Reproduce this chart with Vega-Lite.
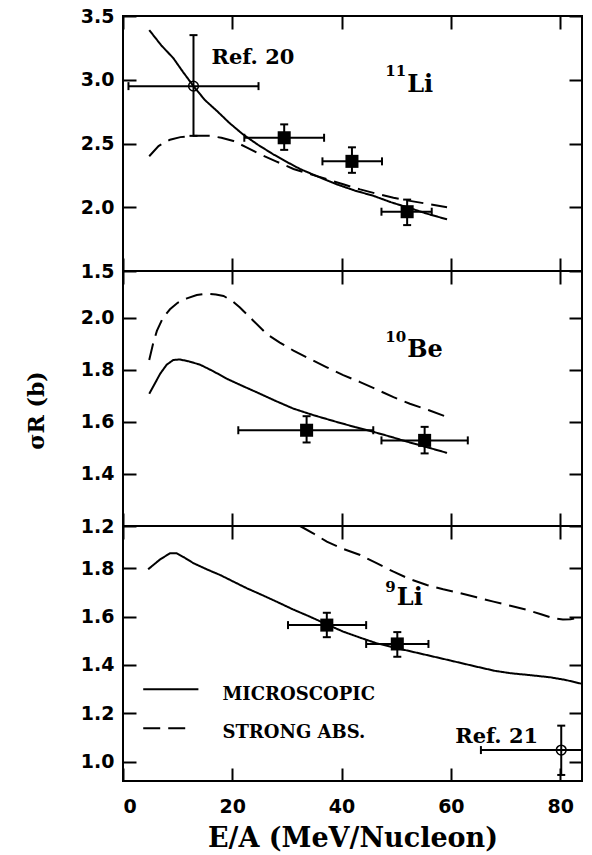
{
"$schema": "https://vega.github.io/schema/vega-lite/v6.json",
"padding": {"left": 23, "top": 6, "right": 10, "bottom": 5},
"spacing": 0,
"bounds": "flush",
"background": "white",
"datasets": {
"c1": [
{"model":"MICROSCOPIC","x":4.8,"y":3.39},{"model":"MICROSCOPIC","x":7,"y":3.27},{"model":"MICROSCOPIC","x":9.2,"y":3.17},{"model":"MICROSCOPIC","x":11,"y":3.06},{"model":"MICROSCOPIC","x":12.9,"y":2.95},{"model":"MICROSCOPIC","x":15,"y":2.84},{"model":"MICROSCOPIC","x":17.2,"y":2.755},{"model":"MICROSCOPIC","x":19.5,"y":2.66},{"model":"MICROSCOPIC","x":22,"y":2.57},{"model":"MICROSCOPIC","x":24.7,"y":2.49},{"model":"MICROSCOPIC","x":27.5,"y":2.415},{"model":"MICROSCOPIC","x":30,"y":2.355},{"model":"MICROSCOPIC","x":32.4,"y":2.3},{"model":"MICROSCOPIC","x":35.7,"y":2.24},{"model":"MICROSCOPIC","x":39.1,"y":2.18},{"model":"MICROSCOPIC","x":42.5,"y":2.13},{"model":"MICROSCOPIC","x":45.8,"y":2.09},{"model":"MICROSCOPIC","x":49,"y":2.04},{"model":"MICROSCOPIC","x":52,"y":2.0},{"model":"MICROSCOPIC","x":55.6,"y":1.95},{"model":"MICROSCOPIC","x":59.3,"y":1.905},
{"model":"STRONG ABS.","x":4.8,"y":2.4},{"model":"STRONG ABS.","x":6.5,"y":2.48},{"model":"STRONG ABS.","x":8.6,"y":2.53},{"model":"STRONG ABS.","x":10.5,"y":2.55},{"model":"STRONG ABS.","x":12.9,"y":2.56},{"model":"STRONG ABS.","x":15.9,"y":2.56},{"model":"STRONG ABS.","x":18,"y":2.545},{"model":"STRONG ABS.","x":20.2,"y":2.52},{"model":"STRONG ABS.","x":22.6,"y":2.47},{"model":"STRONG ABS.","x":25.1,"y":2.415},{"model":"STRONG ABS.","x":28,"y":2.36},{"model":"STRONG ABS.","x":31.2,"y":2.3},{"model":"STRONG ABS.","x":34.2,"y":2.26},{"model":"STRONG ABS.","x":37.3,"y":2.22},{"model":"STRONG ABS.","x":40.3,"y":2.18},{"model":"STRONG ABS.","x":43.4,"y":2.14},{"model":"STRONG ABS.","x":46.5,"y":2.105},{"model":"STRONG ABS.","x":49.5,"y":2.075},{"model":"STRONG ABS.","x":52.5,"y":2.05},{"model":"STRONG ABS.","x":56,"y":2.025},{"model":"STRONG ABS.","x":59.3,"y":2.0}
],
"c2": [
{"model":"MICROSCOPIC","x":4.8,"y":1.708},{"model":"MICROSCOPIC","x":6.8,"y":1.785},{"model":"MICROSCOPIC","x":8,"y":1.82},{"model":"MICROSCOPIC","x":9.2,"y":1.838},{"model":"MICROSCOPIC","x":10.4,"y":1.84},{"model":"MICROSCOPIC","x":12,"y":1.833},{"model":"MICROSCOPIC","x":14.1,"y":1.82},{"model":"MICROSCOPIC","x":16.5,"y":1.795},{"model":"MICROSCOPIC","x":19,"y":1.766},{"model":"MICROSCOPIC","x":22,"y":1.737},{"model":"MICROSCOPIC","x":25.1,"y":1.708},{"model":"MICROSCOPIC","x":28,"y":1.68},{"model":"MICROSCOPIC","x":31.2,"y":1.651},{"model":"MICROSCOPIC","x":35,"y":1.625},{"model":"MICROSCOPIC","x":39.1,"y":1.6},{"model":"MICROSCOPIC","x":42.5,"y":1.58},{"model":"MICROSCOPIC","x":45.8,"y":1.562},{"model":"MICROSCOPIC","x":49,"y":1.543},{"model":"MICROSCOPIC","x":52,"y":1.524},{"model":"MICROSCOPIC","x":55.6,"y":1.503},{"model":"MICROSCOPIC","x":59.3,"y":1.481},
{"model":"STRONG ABS.","x":4.8,"y":1.838},{"model":"STRONG ABS.","x":5.5,"y":1.9},{"model":"STRONG ABS.","x":6.2,"y":1.95},{"model":"STRONG ABS.","x":7.3,"y":2.0},{"model":"STRONG ABS.","x":8.6,"y":2.033},{"model":"STRONG ABS.","x":10,"y":2.058},{"model":"STRONG ABS.","x":11.7,"y":2.075},{"model":"STRONG ABS.","x":13.5,"y":2.088},{"model":"STRONG ABS.","x":15.3,"y":2.093},{"model":"STRONG ABS.","x":17,"y":2.09},{"model":"STRONG ABS.","x":18.4,"y":2.084},{"model":"STRONG ABS.","x":20,"y":2.065},{"model":"STRONG ABS.","x":21.4,"y":2.04},{"model":"STRONG ABS.","x":23.8,"y":1.99},{"model":"STRONG ABS.","x":26.3,"y":1.938},{"model":"STRONG ABS.","x":28.7,"y":1.905},{"model":"STRONG ABS.","x":31.2,"y":1.874},{"model":"STRONG ABS.","x":34.2,"y":1.842},{"model":"STRONG ABS.","x":37.3,"y":1.81},{"model":"STRONG ABS.","x":40.3,"y":1.78},{"model":"STRONG ABS.","x":43.4,"y":1.753},{"model":"STRONG ABS.","x":46.5,"y":1.724},{"model":"STRONG ABS.","x":49.5,"y":1.695},{"model":"STRONG ABS.","x":52.5,"y":1.67},{"model":"STRONG ABS.","x":56,"y":1.645},{"model":"STRONG ABS.","x":59.3,"y":1.619}
],
"c3": [
{"model":"MICROSCOPIC","x":4.6,"y":1.796},{"model":"MICROSCOPIC","x":6.8,"y":1.837},{"model":"MICROSCOPIC","x":8.6,"y":1.862},{"model":"MICROSCOPIC","x":9.8,"y":1.862},{"model":"MICROSCOPIC","x":11.2,"y":1.845},{"model":"MICROSCOPIC","x":12.9,"y":1.821},{"model":"MICROSCOPIC","x":15.3,"y":1.796},{"model":"MICROSCOPIC","x":17.8,"y":1.772},{"model":"MICROSCOPIC","x":20.2,"y":1.745},{"model":"MICROSCOPIC","x":22.7,"y":1.717},{"model":"MICROSCOPIC","x":25.4,"y":1.69},{"model":"MICROSCOPIC","x":28.1,"y":1.662},{"model":"MICROSCOPIC","x":31.1,"y":1.63},{"model":"MICROSCOPIC","x":34.2,"y":1.6},{"model":"MICROSCOPIC","x":37.3,"y":1.568},{"model":"MICROSCOPIC","x":40.3,"y":1.538},{"model":"MICROSCOPIC","x":43.4,"y":1.513},{"model":"MICROSCOPIC","x":46.4,"y":1.49},{"model":"MICROSCOPIC","x":51,"y":1.465},{"model":"MICROSCOPIC","x":55.6,"y":1.441},{"model":"MICROSCOPIC","x":60,"y":1.418},{"model":"MICROSCOPIC","x":64.7,"y":1.393},{"model":"MICROSCOPIC","x":68,"y":1.376},{"model":"MICROSCOPIC","x":70.9,"y":1.366},{"model":"MICROSCOPIC","x":74.5,"y":1.358},{"model":"MICROSCOPIC","x":78.2,"y":1.349},{"model":"MICROSCOPIC","x":81,"y":1.338},{"model":"MICROSCOPIC","x":84,"y":1.322},
{"model":"STRONG ABS.","x":32.4,"y":1.975},{"model":"STRONG ABS.","x":34.8,"y":1.945},{"model":"STRONG ABS.","x":37.3,"y":1.91},{"model":"STRONG ABS.","x":40.3,"y":1.88},{"model":"STRONG ABS.","x":43.4,"y":1.855},{"model":"STRONG ABS.","x":46.5,"y":1.82},{"model":"STRONG ABS.","x":49.5,"y":1.786},{"model":"STRONG ABS.","x":52.5,"y":1.755},{"model":"STRONG ABS.","x":55.6,"y":1.731},{"model":"STRONG ABS.","x":58.6,"y":1.713},{"model":"STRONG ABS.","x":61.7,"y":1.697},{"model":"STRONG ABS.","x":64.7,"y":1.68},{"model":"STRONG ABS.","x":67.8,"y":1.662},{"model":"STRONG ABS.","x":70.9,"y":1.645},{"model":"STRONG ABS.","x":73.9,"y":1.628},{"model":"STRONG ABS.","x":76.5,"y":1.61},{"model":"STRONG ABS.","x":78.8,"y":1.593},{"model":"STRONG ABS.","x":80.5,"y":1.588},{"model":"STRONG ABS.","x":81.9,"y":1.589},{"model":"STRONG ABS.","x":84,"y":1.6}
],
"p1": [
{"kind":"circle","x":12.9,"y":2.95,"xlo":1.0,"xhi":24.8,"ylo":2.56,"yhi":3.35},
{"kind":"square","x":29.5,"y":2.545,"xlo":22.2,"xhi":36.8,"ylo":2.45,"yhi":2.65},
{"kind":"square","x":41.9,"y":2.36,"xlo":36.5,"xhi":47.4,"ylo":2.27,"yhi":2.47},
{"kind":"square","x":52.0,"y":1.965,"xlo":47.3,"xhi":56.5,"ylo":1.86,"yhi":2.06}
],
"p2": [
{"kind":"square","x":33.6,"y":1.568,"xlo":21.1,"xhi":45.8,"ylo":1.521,"yhi":1.622},
{"kind":"square","x":55.2,"y":1.529,"xlo":47.3,"xhi":63.1,"ylo":1.479,"yhi":1.581}
],
"p3": [
{"kind":"square","x":37.3,"y":1.565,"xlo":30.2,"xhi":44.5,"ylo":1.515,"yhi":1.616},
{"kind":"square","x":50.2,"y":1.487,"xlo":44.5,"xhi":55.9,"ylo":1.434,"yhi":1.536},
{"kind":"circle","x":80.2,"y":1.048,"xlo":65.5,"xhi":84,"ylo":0.945,"yhi":1.149}
],
"t1": [
{"role":"ref","text":"Ref. 20","x":16.2,"y":3.121},
{"role":"mass","text":"11","x":48.0,"y":3.03},
{"role":"nuc","text":"Li","x":52.0,"y":2.906}
],
"t2": [
{"role":"mass","text":"10","x":48.0,"y":1.906},
{"role":"nuc","text":"Be","x":52.0,"y":1.848}
],
"t3": [
{"role":"mass","text":"9","x":48.0,"y":1.703},
{"role":"nuc","text":"Li","x":50.1,"y":1.648},
{"role":"ref","text":"Ref. 21","x":60.8,"y":1.076},
{"role":"legend","text":"MICROSCOPIC","x":18.2,"y":1.255},
{"role":"legend","text":"STRONG ABS.","x":18.2,"y":1.097}
],
"leg": [
{"model":"MICROSCOPIC","x":3.7,"x2":13.8,"y":1.30},
{"model":"STRONG ABS.","x":3.7,"x2":11.4,"y":1.138}
]
},
"vconcat": [
{
"width": 459, "height": 255,
"resolve": {"axis": {"x": "independent", "y": "independent"}},
"layer": [
{"data": {"name": "c1"}, "mark": {"type": "point", "opacity": 0},
 "encoding": {
  "x": {"field": "x", "type": "quantitative", "scale": {"domain": [0, 84], "nice": false, "zero": false},
        "axis": {"orient": "bottom", "values": [0,20,40,60,80], "tickColor": "black", "tickSize": -13, "labels": false, "title": null}},
  "y": {"field": "y", "type": "quantitative", "scale": {"domain": [1.5, 3.5], "nice": false, "zero": false},
        "axis": {"orient": "left", "values": [1.5,2,2.5,3,3.5], "tickColor": "black", "offset": -13, "tickSize": 13, "format": ".1f", "labelPadding": 9, "title": null}}}},
{"data": {"name": "c1"}, "mark": {"type": "point", "opacity": 0},
 "encoding": {
  "x": {"field": "x", "type": "quantitative", "axis": {"orient": "top", "values": [0,20,40,60,80], "tickColor": "black", "tickSize": -13, "labels": false, "title": null}},
  "y": {"field": "y", "type": "quantitative", "axis": {"orient": "right", "values": [1.5,2,2.5,3,3.5], "tickColor": "black", "tickSize": -13, "labels": false, "title": null}}}},
{"data": {"name": "c1"}, "mark": {"type": "line", "color": "black", "strokeWidth": 2},
 "encoding": {
  "x": {"field": "x", "type": "quantitative", "axis": null},
  "y": {"field": "y", "type": "quantitative", "axis": null},
  "detail": {"field": "model"},
  "strokeDash": {"field": "model", "type": "nominal", "scale": {"domain": ["MICROSCOPIC", "STRONG ABS."], "range": [[1, 0], [17, 8]]}, "legend": null}}},
{"data": {"name": "p1"}, "mark": {"type": "rule", "color": "black", "strokeWidth": 2},
 "encoding": {"x": {"field": "xlo", "type": "quantitative", "axis": null}, "x2": {"field": "xhi"}, "y": {"field": "y", "type": "quantitative", "axis": null}}},
{"data": {"name": "p1"}, "mark": {"type": "rule", "color": "black", "strokeWidth": 2},
 "encoding": {"y": {"field": "ylo", "type": "quantitative", "axis": null}, "y2": {"field": "yhi"}, "x": {"field": "x", "type": "quantitative", "axis": null}}},
{"data": {"name": "p1"}, "mark": {"type": "point", "shape": "M0,-1L0,1", "filled": false, "color": "black", "strokeWidth": 2, "size": 64, "opacity": 1},
 "encoding": {"x": {"field": "xlo", "type": "quantitative", "axis": null}, "y": {"field": "y", "type": "quantitative", "axis": null}}},
{"data": {"name": "p1"}, "mark": {"type": "point", "shape": "M0,-1L0,1", "filled": false, "color": "black", "strokeWidth": 2, "size": 64, "opacity": 1},
 "encoding": {"x": {"field": "xhi", "type": "quantitative", "axis": null}, "y": {"field": "y", "type": "quantitative", "axis": null}}},
{"data": {"name": "p1"}, "mark": {"type": "point", "shape": "M-1,0L1,0", "filled": false, "color": "black", "strokeWidth": 2, "size": 64, "opacity": 1},
 "encoding": {"x": {"field": "x", "type": "quantitative", "axis": null}, "y": {"field": "ylo", "type": "quantitative", "axis": null}}},
{"data": {"name": "p1"}, "mark": {"type": "point", "shape": "M-1,0L1,0", "filled": false, "color": "black", "strokeWidth": 2, "size": 64, "opacity": 1},
 "encoding": {"x": {"field": "x", "type": "quantitative", "axis": null}, "y": {"field": "yhi", "type": "quantitative", "axis": null}}},
{"data": {"name": "p1"}, "transform": [{"filter": "datum.kind == 'square'"}],
 "mark": {"type": "point", "shape": "square", "filled": true, "color": "black", "size": 170, "opacity": 1},
 "encoding": {"x": {"field": "x", "type": "quantitative", "axis": null}, "y": {"field": "y", "type": "quantitative", "axis": null}}},
{"data": {"name": "p1"}, "transform": [{"filter": "datum.kind == 'circle'"}],
 "mark": {"type": "point", "shape": "circle", "filled": false, "color": "black", "strokeWidth": 1.5, "size": 95, "opacity": 1},
 "encoding": {"x": {"field": "x", "type": "quantitative", "axis": null}, "y": {"field": "y", "type": "quantitative", "axis": null}}},
{"data": {"name": "t1"}, "mark": {"type": "text", "font": "DejaVu Serif", "fontWeight": "bold", "align": "left", "baseline": "alphabetic", "color": "black"},
 "encoding": {"x": {"field": "x", "type": "quantitative", "axis": null}, "y": {"field": "y", "type": "quantitative", "axis": null},
  "text": {"field": "text"},
  "size": {"field": "role", "type": "nominal", "scale": {"type": "ordinal", "domain": ["ref", "nuc", "mass", "legend"], "range": [21, 24, 15, 18]}, "legend": null}}}
]
},
{
"width": 459, "height": 255,
"resolve": {"axis": {"x": "independent", "y": "independent"}},
"layer": [
{"data": {"name": "c2"}, "mark": {"type": "point", "opacity": 0},
 "encoding": {
  "x": {"field": "x", "type": "quantitative", "scale": {"domain": [0, 84], "nice": false, "zero": false},
        "axis": {"orient": "bottom", "values": [0,20,40,60,80], "tickColor": "black", "tickSize": -13, "labels": false, "title": null}},
  "y": {"field": "y", "type": "quantitative", "scale": {"domain": [1.2, 2.18], "nice": false, "zero": false},
        "axis": {"orient": "left", "values": [1.2,1.4,1.6,1.8,2.0], "tickColor": "black", "offset": -13, "tickSize": 13, "format": ".1f", "labelPadding": 9,
                 "title": "σR (b)", "titleFont": "DejaVu Serif", "titleFontSize": 22, "titleFontWeight": "bold", "titleColor": "black", "titleX": -88, "titleY": 139}}}},
{"data": {"name": "c2"}, "mark": {"type": "point", "opacity": 0},
 "encoding": {
  "x": {"field": "x", "type": "quantitative", "axis": {"orient": "top", "values": [0,20,40,60,80], "tickColor": "black", "tickSize": -13, "labels": false, "title": null}},
  "y": {"field": "y", "type": "quantitative", "axis": {"orient": "right", "values": [1.2,1.4,1.6,1.8,2.0], "tickColor": "black", "tickSize": -13, "labels": false, "title": null}}}},
{"data": {"name": "c2"}, "mark": {"type": "line", "color": "black", "strokeWidth": 2},
 "encoding": {
  "x": {"field": "x", "type": "quantitative", "axis": null},
  "y": {"field": "y", "type": "quantitative", "axis": null},
  "detail": {"field": "model"},
  "strokeDash": {"field": "model", "type": "nominal", "scale": {"domain": ["MICROSCOPIC", "STRONG ABS."], "range": [[1, 0], [17, 8]]}, "legend": null}}},
{"data": {"name": "p2"}, "mark": {"type": "rule", "color": "black", "strokeWidth": 2},
 "encoding": {"x": {"field": "xlo", "type": "quantitative", "axis": null}, "x2": {"field": "xhi"}, "y": {"field": "y", "type": "quantitative", "axis": null}}},
{"data": {"name": "p2"}, "mark": {"type": "rule", "color": "black", "strokeWidth": 2},
 "encoding": {"y": {"field": "ylo", "type": "quantitative", "axis": null}, "y2": {"field": "yhi"}, "x": {"field": "x", "type": "quantitative", "axis": null}}},
{"data": {"name": "p2"}, "mark": {"type": "point", "shape": "M0,-1L0,1", "filled": false, "color": "black", "strokeWidth": 2, "size": 64, "opacity": 1},
 "encoding": {"x": {"field": "xlo", "type": "quantitative", "axis": null}, "y": {"field": "y", "type": "quantitative", "axis": null}}},
{"data": {"name": "p2"}, "mark": {"type": "point", "shape": "M0,-1L0,1", "filled": false, "color": "black", "strokeWidth": 2, "size": 64, "opacity": 1},
 "encoding": {"x": {"field": "xhi", "type": "quantitative", "axis": null}, "y": {"field": "y", "type": "quantitative", "axis": null}}},
{"data": {"name": "p2"}, "mark": {"type": "point", "shape": "M-1,0L1,0", "filled": false, "color": "black", "strokeWidth": 2, "size": 64, "opacity": 1},
 "encoding": {"x": {"field": "x", "type": "quantitative", "axis": null}, "y": {"field": "ylo", "type": "quantitative", "axis": null}}},
{"data": {"name": "p2"}, "mark": {"type": "point", "shape": "M-1,0L1,0", "filled": false, "color": "black", "strokeWidth": 2, "size": 64, "opacity": 1},
 "encoding": {"x": {"field": "x", "type": "quantitative", "axis": null}, "y": {"field": "yhi", "type": "quantitative", "axis": null}}},
{"data": {"name": "p2"}, "transform": [{"filter": "datum.kind == 'square'"}],
 "mark": {"type": "point", "shape": "square", "filled": true, "color": "black", "size": 170, "opacity": 1},
 "encoding": {"x": {"field": "x", "type": "quantitative", "axis": null}, "y": {"field": "y", "type": "quantitative", "axis": null}}},
{"data": {"name": "t2"}, "mark": {"type": "text", "font": "DejaVu Serif", "fontWeight": "bold", "align": "left", "baseline": "alphabetic", "color": "black"},
 "encoding": {"x": {"field": "x", "type": "quantitative", "axis": null}, "y": {"field": "y", "type": "quantitative", "axis": null},
  "text": {"field": "text"},
  "size": {"field": "role", "type": "nominal", "scale": {"type": "ordinal", "domain": ["ref", "nuc", "mass", "legend"], "range": [21, 24, 16, 18]}, "legend": null}}}
]
},
{
"width": 459, "height": 255,
"resolve": {"axis": {"x": "independent", "y": "independent"}},
"layer": [
{"data": {"name": "c3"}, "mark": {"type": "point", "opacity": 0},
 "encoding": {
  "x": {"field": "x", "type": "quantitative", "scale": {"domain": [0, 84], "nice": false, "zero": false},
        "axis": {"orient": "bottom", "values": [0,20,40,60,80], "tickColor": "black", "offset": -13, "tickSize": 13, "labels": true, "labelPadding": 16,
                 "title": "E/A (MeV/Nucleon)", "titleFont": "DejaVu Serif", "titleFontSize": 27, "titleFontWeight": "bold", "titleColor": "black", "titlePadding": 9}},
  "y": {"field": "y", "type": "quantitative", "scale": {"domain": [0.92, 1.975], "nice": false, "zero": false},
        "axis": {"orient": "left", "values": [1.0,1.2,1.4,1.6,1.8], "tickColor": "black", "offset": -13, "tickSize": 13, "format": ".1f", "labelPadding": 9, "title": null}}}},
{"data": {"name": "c3"}, "mark": {"type": "point", "opacity": 0},
 "encoding": {
  "x": {"field": "x", "type": "quantitative", "axis": {"orient": "top", "values": [0,20,40,60,80], "tickColor": "black", "tickSize": -13, "labels": false, "title": null}},
  "y": {"field": "y", "type": "quantitative", "axis": {"orient": "right", "values": [1.0,1.2,1.4,1.6,1.8], "tickColor": "black", "tickSize": -13, "labels": false, "title": null}}}},
{"data": {"name": "c3"}, "mark": {"type": "line", "color": "black", "strokeWidth": 2},
 "encoding": {
  "x": {"field": "x", "type": "quantitative", "axis": null},
  "y": {"field": "y", "type": "quantitative", "axis": null},
  "detail": {"field": "model"},
  "strokeDash": {"field": "model", "type": "nominal", "scale": {"domain": ["MICROSCOPIC", "STRONG ABS."], "range": [[1, 0], [17, 8]]}, "legend": null}}},
{"data": {"name": "leg"}, "mark": {"type": "rule", "color": "black", "strokeWidth": 2},
 "encoding": {
  "x": {"field": "x", "type": "quantitative", "axis": null}, "x2": {"field": "x2"},
  "y": {"field": "y", "type": "quantitative", "axis": null},
  "strokeDash": {"field": "model", "type": "nominal", "legend": null}}},
{"data": {"name": "p3"}, "mark": {"type": "rule", "color": "black", "strokeWidth": 2},
 "encoding": {"x": {"field": "xlo", "type": "quantitative", "axis": null}, "x2": {"field": "xhi"}, "y": {"field": "y", "type": "quantitative", "axis": null}}},
{"data": {"name": "p3"}, "mark": {"type": "rule", "color": "black", "strokeWidth": 2},
 "encoding": {"y": {"field": "ylo", "type": "quantitative", "axis": null}, "y2": {"field": "yhi"}, "x": {"field": "x", "type": "quantitative", "axis": null}}},
{"data": {"name": "p3"}, "mark": {"type": "point", "shape": "M0,-1L0,1", "filled": false, "color": "black", "strokeWidth": 2, "size": 64, "opacity": 1},
 "encoding": {"x": {"field": "xlo", "type": "quantitative", "axis": null}, "y": {"field": "y", "type": "quantitative", "axis": null}}},
{"data": {"name": "p3"}, "transform": [{"filter": "datum.kind == 'square'"}], "mark": {"type": "point", "shape": "M0,-1L0,1", "filled": false, "color": "black", "strokeWidth": 2, "size": 64, "opacity": 1},
 "encoding": {"x": {"field": "xhi", "type": "quantitative", "axis": null}, "y": {"field": "y", "type": "quantitative", "axis": null}}},
{"data": {"name": "p3"}, "mark": {"type": "point", "shape": "M-1,0L1,0", "filled": false, "color": "black", "strokeWidth": 2, "size": 64, "opacity": 1},
 "encoding": {"x": {"field": "x", "type": "quantitative", "axis": null}, "y": {"field": "ylo", "type": "quantitative", "axis": null}}},
{"data": {"name": "p3"}, "mark": {"type": "point", "shape": "M-1,0L1,0", "filled": false, "color": "black", "strokeWidth": 2, "size": 64, "opacity": 1},
 "encoding": {"x": {"field": "x", "type": "quantitative", "axis": null}, "y": {"field": "yhi", "type": "quantitative", "axis": null}}},
{"data": {"name": "p3"}, "transform": [{"filter": "datum.kind == 'square'"}],
 "mark": {"type": "point", "shape": "square", "filled": true, "color": "black", "size": 170, "opacity": 1},
 "encoding": {"x": {"field": "x", "type": "quantitative", "axis": null}, "y": {"field": "y", "type": "quantitative", "axis": null}}},
{"data": {"name": "p3"}, "transform": [{"filter": "datum.kind == 'circle'"}],
 "mark": {"type": "point", "shape": "circle", "filled": false, "color": "black", "strokeWidth": 1.5, "size": 95, "opacity": 1},
 "encoding": {"x": {"field": "x", "type": "quantitative", "axis": null}, "y": {"field": "y", "type": "quantitative", "axis": null}}},
{"data": {"name": "t3"}, "mark": {"type": "text", "font": "DejaVu Serif", "fontWeight": "bold", "align": "left", "baseline": "alphabetic", "color": "black"},
 "encoding": {"x": {"field": "x", "type": "quantitative", "axis": null}, "y": {"field": "y", "type": "quantitative", "axis": null},
  "text": {"field": "text"},
  "size": {"field": "role", "type": "nominal", "scale": {"type": "ordinal", "domain": ["ref", "nuc", "mass", "legend"], "range": [21, 24, 15, 18]}, "legend": null}}}
]
}
],
"config": {
 "view": {"stroke": "black", "strokeWidth": 2},
 "axis": {"domain": false, "grid": false, "tickWidth": 2, "labelColor": "black", "labelFont": "DejaVu Sans", "labelFontWeight": "bold", "labelFontSize": 19}
}
}
